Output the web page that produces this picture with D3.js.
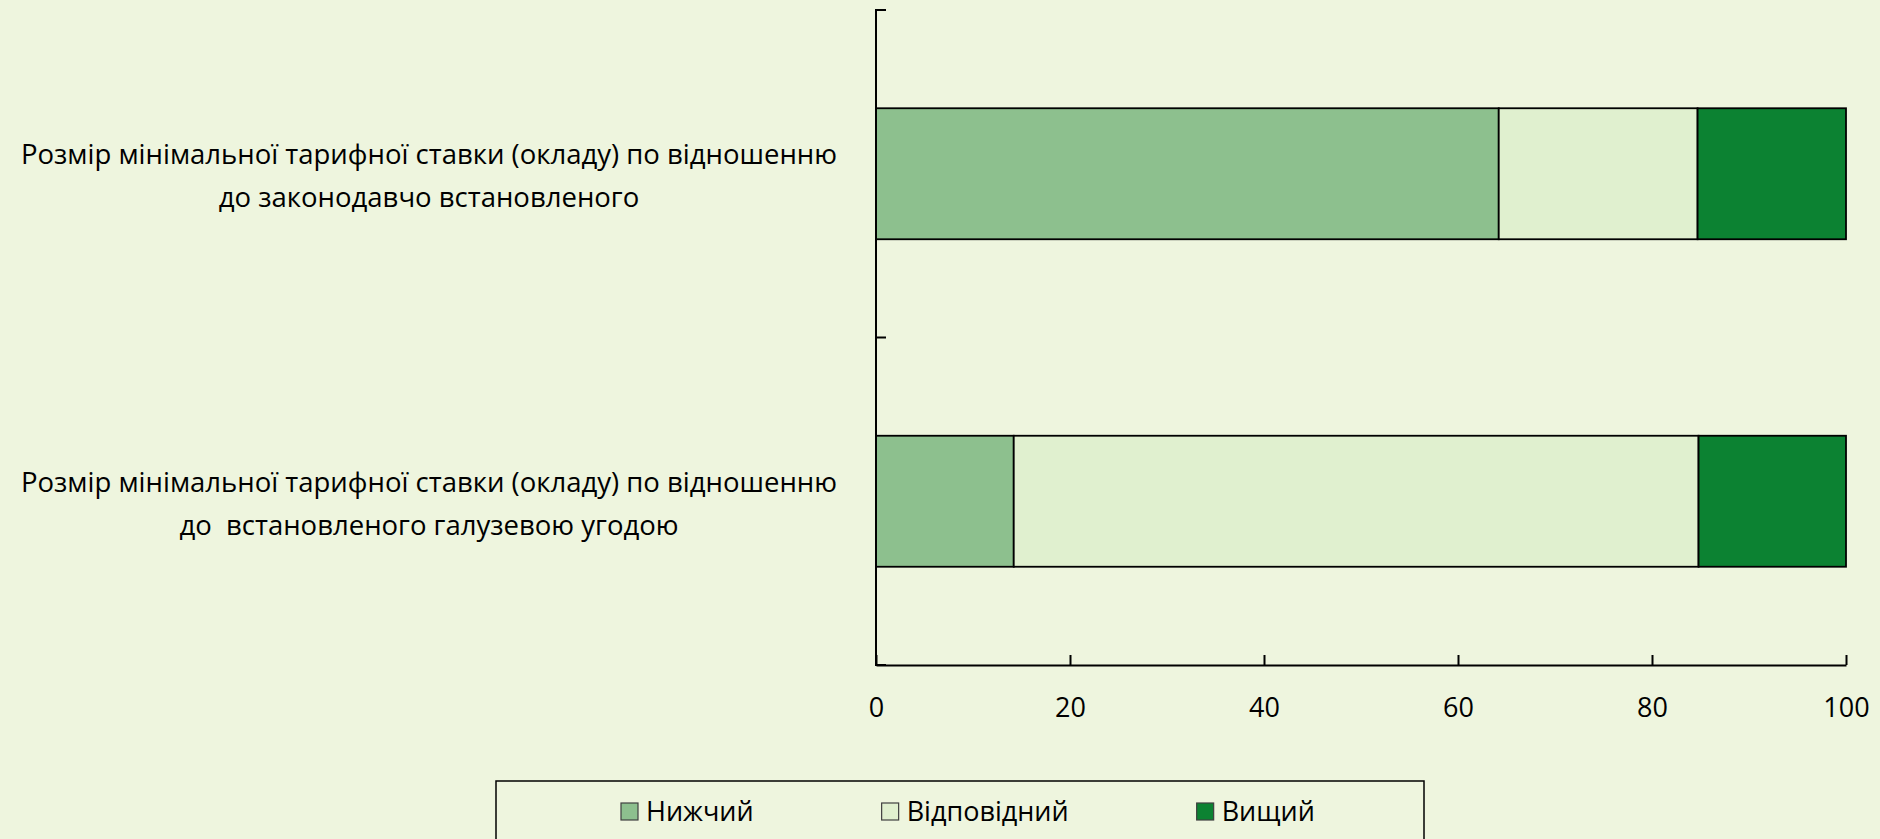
<!DOCTYPE html>
<html>
<head>
<meta charset="utf-8">
<script src="https://cdn.jsdelivr.net/npm/d3@7"></script>
<style>
  html, body { margin: 0; padding: 0; background: #eef5de; }
  svg { display: block; font-family: "Open Sans", sans-serif; }
  .lbl { white-space: pre; }
</style>
</head>
<body>
<div id="chart"></div>
<script>
// categories, top to bottom, each label split on its lines
var categories = [
  ["Розмір мінімальної тарифної ставки (окладу) по відношенню", "до законодавчо встановленого"],
  ["Розмір мінімальної тарифної ставки (окладу) по відношенню", "до  встановленого галузевою угодою"]
];
var seriesNames = ["Нижчий", "Відповідний", "Вищий"];
var seriesColors = ["#8dc08e", "#e0f0cf", "#0c8232"];
var lower = [64.2, 14.2];
var matching = [20.5, 70.6];
var higher = [15.3, 15.2];
var xTicks = [0, 20, 40, 60, 80, 100];

var W = 1880, H = 839;
var plotLeft = 876, plotRight = 1846, plotTop = 10, plotBottom = 665;

var svg = d3.select("#chart").append("svg")
  .attr("width", W).attr("height", H);

svg.append("rect").attr("width", W).attr("height", H).style("fill", "#eef5de");

var x = d3.scaleLinear().domain([0, 100]).range([plotLeft, plotRight]);
var y = d3.scaleBand().domain(d3.range(categories.length)).range([plotTop, plotBottom])
  .paddingInner(0.6).paddingOuter(0.3);
var step = (plotBottom - plotTop) / categories.length;

// stacked data
var rows = categories.map(function(c, i) {
  return {i: i, "Нижчий": lower[i], "Відповідний": matching[i], "Вищий": higher[i]};
});
var stacked = d3.stack().keys(seriesNames)(rows);

var g = svg.append("g");
stacked.forEach(function(layer, k) {
  g.selectAll("rect.s" + k).data(layer).enter().append("rect")
    .attr("class", "s" + k)
    .attr("x", function(d) { return x(d[0]); })
    .attr("y", function(d) { return y(d.data.i); })
    .attr("width", function(d) { return x(d[1]) - x(d[0]); })
    .attr("height", y.bandwidth())
    .style("fill", seriesColors[k])
    .style("stroke", "#000")
    .style("stroke-width", 1.8);
});

// x axis, ticks pointing inward
var xAxis = svg.append("g").attr("transform", "translate(0," + plotBottom + ")")
  .call(d3.axisBottom(x).tickValues(xTicks).tickSizeInner(-10).tickSizeOuter(0).tickPadding(33));
xAxis.select(".domain").style("stroke", "#000").style("stroke-width", 2);
xAxis.selectAll(".tick line").style("stroke", "#000").style("stroke-width", 2);
xAxis.selectAll(".tick text")
  .style("font-family", "'Open Sans', sans-serif")
  .style("font-size", "27px").style("fill", "#000");

// y axis line with category boundary ticks
svg.append("line")
  .attr("x1", plotLeft).attr("x2", plotLeft).attr("y1", plotTop - 1).attr("y2", plotBottom + 1)
  .style("stroke", "#000").style("stroke-width", 2);
var bounds = d3.range(categories.length + 1).map(function(k) { return plotTop + k * step; });
svg.selectAll("line.ytick").data(bounds).enter().append("line")
  .attr("class", "ytick")
  .attr("x1", plotLeft).attr("x2", plotLeft + 10)
  .attr("y1", function(d) { return d; }).attr("y2", function(d) { return d; })
  .style("stroke", "#000").style("stroke-width", 2);

// category labels
var lineGap = 43;
categories.forEach(function(lines, i) {
  var cy = y(i) + y.bandwidth() / 2;
  var t = svg.append("text").attr("class", "lbl")
    .attr("text-anchor", "middle")
    .style("font-size", "27.5px").style("fill", "#000");
  lines.forEach(function(s, j) {
    t.append("tspan").attr("x", 429)
      .attr("y", cy + (j - (lines.length - 1) / 2) * lineGap + 12)
      .text(s);
  });
});

// legend
var leg = svg.append("g");
leg.append("rect")
  .attr("x", 496).attr("y", 781).attr("width", 928).attr("height", 80)
  .style("fill", "none").style("stroke", "#000").style("stroke-width", 1.5);
var lx = 621;
seriesNames.forEach(function(name, k) {
  leg.append("rect")
    .attr("x", lx).attr("y", 803).attr("width", 17).attr("height", 17)
    .style("fill", seriesColors[k]).style("stroke", "#404040").style("stroke-width", 1.2);
  var t = leg.append("text")
    .attr("x", lx + 25).attr("y", 821)
    .style("font-size", "27px").style("fill", "#000")
    .text(name);
  lx += 25 + t.node().getComputedTextLength() + 128;
});
</script>
</body>
</html>
